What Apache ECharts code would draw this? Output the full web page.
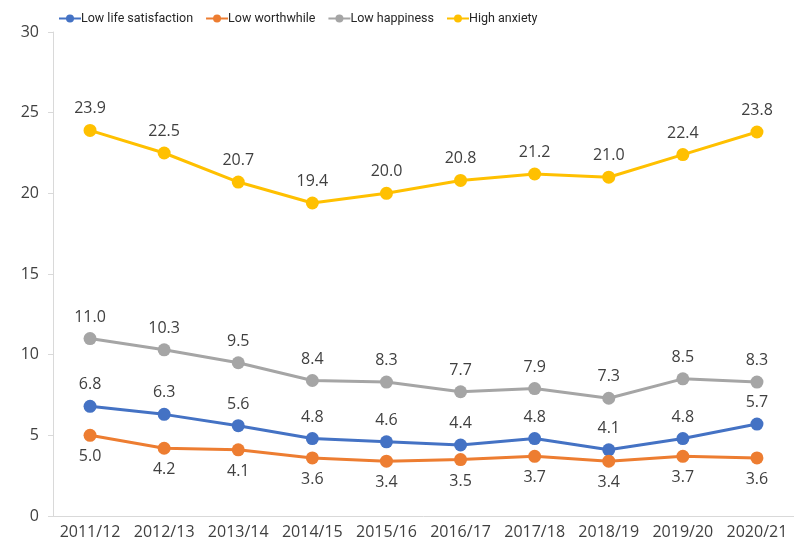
<!DOCTYPE html>
<html>
<head>
<meta charset="utf-8">
<script src="https://cdn.jsdelivr.net/npm/echarts@6/dist/echarts.min.js"></script>
<style>
  html, body { margin: 0; padding: 0; background: #fff; }
  #chart { width: 794px; height: 548px; }
</style>
</head>
<body>
<div id="chart"></div>
<script>
// categories and series values
const years = ["2011/12", "2012/13", "2013/14", "2014/15", "2015/16", "2016/17", "2017/18", "2018/19", "2019/20", "2020/21"];
const lowLifeSatisfaction = [6.8, 6.3, 5.6, 4.8, 4.6, 4.4, 4.8, 4.1, 4.8, 5.7];
const lowWorthwhile = [5.0, 4.2, 4.1, 3.6, 3.4, 3.5, 3.7, 3.4, 3.7, 3.6];
const lowHappiness = [11.0, 10.3, 9.5, 8.4, 8.3, 7.7, 7.9, 7.3, 8.5, 8.3];
const highAnxiety = [23.9, 22.5, 20.7, 19.4, 20.0, 20.8, 21.2, 21.0, 22.4, 23.8];

const font = "Open Sans";
const narrowFont = "Roboto";
const textColor = "#404040";

function makeSeries(name, data, color, labelPos) {
  return {
    name: name,
    type: "line",
    data: data,
    symbol: "circle",
    symbolSize: 13,
    lineStyle: { width: 3, color: color },
    itemStyle: { color: color },
    label: {
      show: true,
      position: labelPos,
      distance: 7,
      color: textColor,
      fontFamily: font,
      fontSize: 16,
      formatter: (p) => p.value.toFixed(1),
    },
    animation: false,
  };
}

const option = {
  textStyle: { fontFamily: font },
  legend: {
    top: 7,
    left: 53,
    itemWidth: 22,
    itemHeight: 10,
    itemGap: 12,
    textStyle: { color: "#262626", fontSize: 12.5, fontFamily: narrowFont, padding: [0, 0, 0, -5] },
    data: ["Low life satisfaction", "Low worthwhile", "Low happiness", "High anxiety"],
  },
  grid: { top: 32, bottom: 32, left: 53, right: -5 },
  xAxis: {
    type: "category",
    data: years,
    boundaryGap: true,
    axisLine: { lineStyle: { color: "#d9d9d9", width: 1 } },
    axisTick: { show: false },
    axisLabel: { color: textColor, fontSize: 16, fontFamily: font, margin: 8, interval: 0 },
  },
  yAxis: {
    type: "value",
    min: 0,
    max: 30,
    interval: 5,
    axisLine: { show: true, lineStyle: { color: "#d9d9d9", width: 1 } },
    axisTick: { show: true, length: 5, lineStyle: { color: "#d9d9d9" } },
    splitLine: { show: false },
    axisLabel: { color: textColor, fontSize: 16, fontFamily: font, margin: 14 },
  },
  series: [
    makeSeries("Low life satisfaction", lowLifeSatisfaction, "#4472C4", "top"),
    makeSeries("Low worthwhile", lowWorthwhile, "#ED7D31", "bottom"),
    makeSeries("Low happiness", lowHappiness, "#A5A5A5", "top"),
    makeSeries("High anxiety", highAnxiety, "#FFC000", "top"),
  ],
};

const chart = echarts.init(document.getElementById("chart"));
chart.setOption(option);
</script>
</body>
</html>
